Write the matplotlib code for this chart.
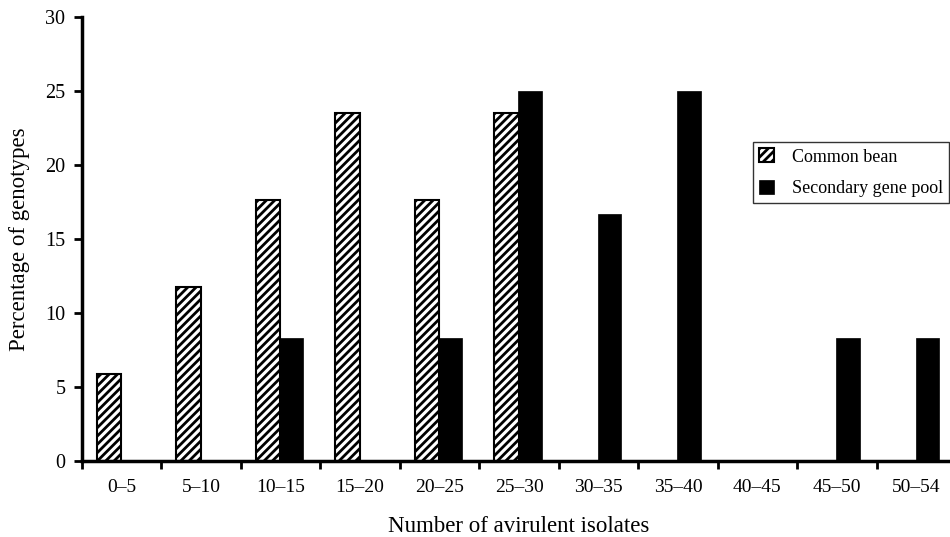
import matplotlib
matplotlib.use("Agg")
import matplotlib.pyplot as plt
import numpy as np

categories = ["0–5", "5–10", "10–15", "15–20", "20–25", "25–30",
              "30–35", "35–40", "40–45", "45–50", "50–54"]
common_bean = [5.88, 11.76, 17.65, 23.53, 17.65, 23.53, 0, 0, 0, 0, 0]
secondary_pool = [0, 0, 8.33, 0, 8.33, 25.0, 16.67, 25.0, 0, 8.33, 8.33]
yticks = [0, 5, 10, 15, 20, 25, 30]

plt.rcParams['font.family'] = ['Liberation Serif', 'DejaVu Serif']
plt.rcParams['hatch.linewidth'] = 2.0

fig = plt.figure(figsize=(9.5, 5.37), dpi=100)
ax = fig.add_axes([82/950, 76/537, (956-82)/950, (461-17)/537])

x = np.arange(len(categories)) + 0.5
w = 0.31
cb = [v if v > 0 else np.nan for v in common_bean]
sp = [v if v > 0 else np.nan for v in secondary_pool]
ax.bar(x - w/2 - 0.005, cb, width=w, facecolor='white', edgecolor='black',
       hatch='////', linewidth=1.5, label='Common bean')
ax.bar(x + w/2 - 0.015, sp, width=w*0.95, facecolor='black', edgecolor='black',
       linewidth=0.5, label='Secondary gene pool')

ax.set_xlim(0, len(categories))
ax.set_ylim(0, 30)
ax.set_yticks(yticks)
ax.set_xticks(np.arange(len(categories) + 1))
ax.set_xticklabels([])
ax.set_xticks(x, minor=True)
ax.set_xticklabels(categories, minor=True, fontsize=14)
ax.tick_params(axis='x', which='minor', length=0, pad=13)
ax.tick_params(axis='x', which='major', length=6, width=2, direction='out')
ax.tick_params(axis='y', length=6, width=2, direction='out', labelsize=14.5, pad=6)

for s in ['top', 'right']:
    ax.spines[s].set_visible(False)
for s in ['left', 'bottom']:
    ax.spines[s].set_linewidth(2.5)

ax.set_xlabel("Number of avirulent isolates", fontsize=16.5, labelpad=14)
ax.set_ylabel("Percentage of genotypes", fontsize=16.5, labelpad=11)

leg = fig.legend(loc='upper left', bbox_to_anchor=(753/950, 1 - 142/537),
                 fontsize=13, frameon=True, fancybox=False, edgecolor='black',
                 handlelength=0.8, handleheight=0.8, borderpad=0.35,
                 labelspacing=0.8, handletextpad=1.0, borderaxespad=0)
leg.get_frame().set_linewidth(1.0)

fig.savefig("out.png", dpi=100, facecolor='white')
